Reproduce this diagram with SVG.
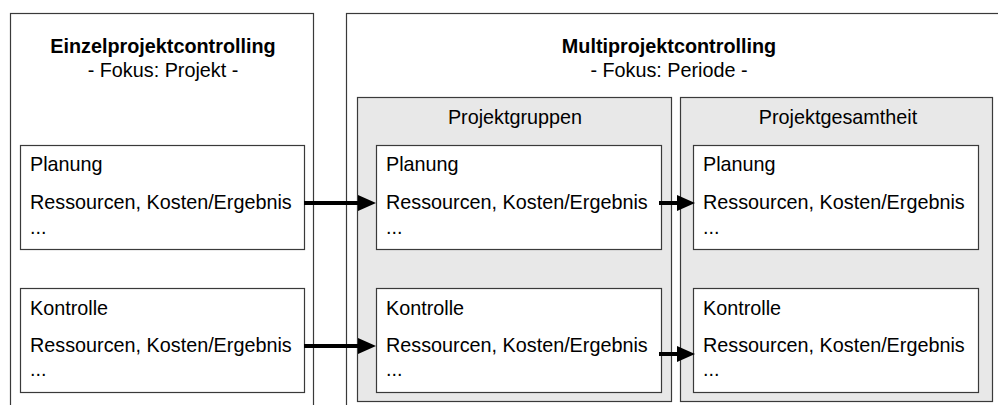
<svg xmlns="http://www.w3.org/2000/svg" width="998" height="405" viewBox="0 0 998 405">
<style>
text{font-family:"Liberation Sans",Arial,sans-serif;font-size:19.8px;fill:#000}
.b{font-weight:bold}
.c{text-anchor:middle}
.outer{fill:#fff;stroke:#3a3a3a;stroke-width:1.2}
.gray{fill:#e8e8e8;stroke:#3a3a3a;stroke-width:1.2}
.inner{fill:#fff;stroke:#3a3a3a;stroke-width:1.2}
.arr{stroke:#000;stroke-width:4;fill:none}
</style>
<defs>
<marker id="ah" markerUnits="userSpaceOnUse" markerWidth="19" markerHeight="18" refX="8" refY="9" orient="auto">
<path d="M0,1 L18,9 L0,17 z" fill="#000"/>
</marker>
</defs>
<g id="einzel">
<rect class="outer" x="10.5" y="13.5" width="303" height="420"/>
<text class="b c" x="163" y="53">Einzelprojektcontrolling</text>
<text class="c" x="163" y="77">- Fokus: Projekt -</text>
</g>
<g id="multi">
<rect class="outer" x="346.5" y="13.5" width="700" height="420"/>
<text class="b c" x="669" y="53">Multiprojektcontrolling</text>
<text class="c" x="669" y="77">- Fokus: Periode -</text>
</g>
<g id="gruppen">
<rect class="gray" x="357.5" y="97.5" width="314" height="304"/>
<text class="c" x="515" y="124">Projektgruppen</text>
</g>
<g id="gesamt">
<rect class="gray" x="680.5" y="97.5" width="312" height="304"/>
<text class="c" x="838" y="124">Projektgesamtheit</text>
</g>
<g id="e-planung">
<rect class="inner" x="20.5" y="145.5" width="284" height="104"/>
<text x="30" y="171">Planung</text>
<text x="30" y="209">Ressourcen, Kosten/Ergebnis</text>
<text x="30" y="234">...</text>
</g>
<g id="e-kontrolle">
<rect class="inner" x="20.5" y="288.5" width="284" height="104"/>
<text x="30" y="315">Kontrolle</text>
<text x="30" y="352">Ressourcen, Kosten/Ergebnis</text>
<text x="30" y="376">...</text>
</g>
<g id="g-planung">
<rect class="inner" x="376.5" y="145.5" width="285" height="104"/>
<text x="386" y="171">Planung</text>
<text x="386" y="209">Ressourcen, Kosten/Ergebnis</text>
<text x="386" y="234">...</text>
</g>
<g id="g-kontrolle">
<rect class="inner" x="376.5" y="288.5" width="285" height="104"/>
<text x="386" y="315">Kontrolle</text>
<text x="386" y="352">Ressourcen, Kosten/Ergebnis</text>
<text x="386" y="376">...</text>
</g>
<g id="t-planung">
<rect class="inner" x="693.5" y="145.5" width="285" height="104"/>
<text x="703" y="171">Planung</text>
<text x="703" y="209">Ressourcen, Kosten/Ergebnis</text>
<text x="703" y="234">...</text>
</g>
<g id="t-kontrolle">
<rect class="inner" x="693.5" y="288.5" width="285" height="104"/>
<text x="703" y="315">Kontrolle</text>
<text x="703" y="352">Ressourcen, Kosten/Ergebnis</text>
<text x="703" y="376">...</text>
</g>
<g id="connectors">
<line class="arr" x1="304" y1="203" x2="366" y2="203" marker-end="url(#ah)"/>
<line class="arr" x1="304" y1="346" x2="366" y2="346" marker-end="url(#ah)"/>
<line class="arr" x1="659" y1="203" x2="685" y2="203" marker-end="url(#ah)"/>
<line class="arr" x1="659" y1="354" x2="685" y2="354" marker-end="url(#ah)"/>
</g>
</svg>
